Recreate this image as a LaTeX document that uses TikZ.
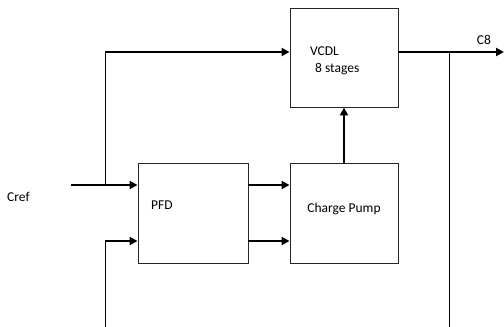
\documentclass[tikz,border=0pt]{standalone}
\usepackage{fontspec}
\setmainfont{Carlito}
\usetikzlibrary{arrows.meta}
\begin{document}
\begin{tikzpicture}[x=1pt,y=1pt,
  blk/.style={draw=black!85,line width=0.9pt,minimum width=108pt,minimum height=99pt,inner sep=0pt},
  arr/.style={line width=2pt,-{Triangle[length=8pt,width=8pt]}},
  wire/.style={line width=0.9pt},
  lbl/.style={font=\fontsize{13.5}{15}\selectfont,inner sep=0pt}]
\useasboundingbox (0,0) rectangle (504,327);
\node[blk] (vcdl) at (344,269.5) {};
\node[blk,minimum height=100pt] (cp) at (344,114) {};
\node[blk,minimum width=110pt,minimum height=100pt] (pfd) at (193,114) {};
\node[lbl,anchor=west] (tvcdl) at (310,276) {VCDL};
\node[lbl,anchor=west] (tstages) at (315,258) {8 stages};
\node[lbl] (tcp) at (344,118) {Charge Pump};
\node[lbl,anchor=west] (tpfd) at (151,122) {PFD};
\node[lbl,anchor=west] (tcref) at (7,130) {Cref};
\node[lbl] (tc8) at (484,287) {C8};
\coordinate (tapL) at (105,275);
\coordinate (jL) at (105,142);
\coordinate (crefS) at (71,142);
\coordinate (jL2) at (105,86);
\coordinate (botL) at (105,0);
\coordinate (tapR) at (449,275);
\coordinate (botR) at (449,0);
\coordinate (outE) at (504,275);
\draw[arr] (tapL) -- (vcdl.west |- tapL);
\draw[wire] (tapL) -- (jL);
\draw[arr] (crefS) -- (pfd.west |- crefS);
\draw[wire] (botL) -- (jL2);
\draw[arr] (jL2) -- (pfd.west |- jL2);
\draw[arr] (pfd.east |- crefS) -- (cp.west |- crefS);
\draw[arr] (pfd.east |- jL2) -- (cp.west |- jL2);
\draw[arr] (cp.north) -- (vcdl.south);
\draw[arr] (vcdl.east |- tapL) -- (outE);
\draw[wire] (tapR) -- (botR);
\end{tikzpicture}
\end{document}
